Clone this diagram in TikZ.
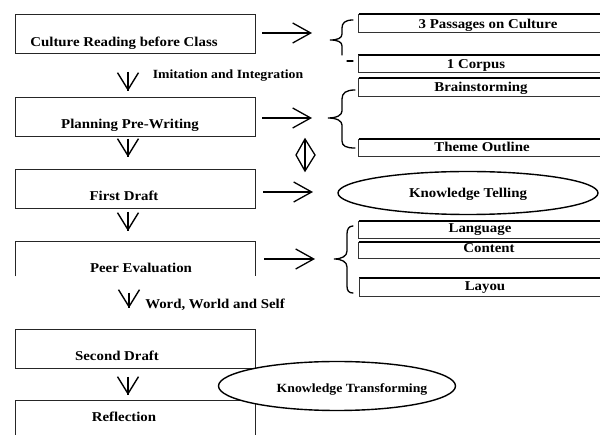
\documentclass[tikz,border=0pt]{standalone}
\usepackage{fontspec}
\setmainfont{Liberation Serif}[FakeStretch=1.1]
\usetikzlibrary{arrows.meta,shapes.geometric}
\tikzset{
  lbl/.style={font=\fontsize{13.5}{15}\selectfont\bfseries, inner sep=0pt, anchor=base},
  slbl/.style={font=\fontsize{12.5}{14}\selectfont\bfseries, inner sep=0pt, anchor=base},
  lbox/.style={draw=black!85, line width=1pt, minimum width=240pt, minimum height=39pt, inner sep=0pt, anchor=north west},
  obox/.style={draw=none, minimum width=240pt, inner sep=0pt, anchor=north west},
  oline/.style={draw=black!85, line width=1pt},
  rbox/.style={draw=none, minimum width=241pt, inner sep=0pt},
  rtop/.style={draw=black, line width=1.6pt},
  rline/.style={draw=black!80, line width=0.9pt},
  oval/.style={ellipse, draw=black, line width=1.4pt, fill=white, inner sep=0pt},
  downarr/.style={line width=1.4pt, -{Straight Barb[length=17pt,width=21pt]}},
  shaft/.style={line width=1.4pt},
  rightarr/.style={line width=1.3pt, -{Straight Barb[length=18pt,width=20pt]}},
  brace/.style={line width=1.3pt, line cap=round}
}
\begin{document}
\begin{tikzpicture}[x=1pt,y=-1pt]
\useasboundingbox (0,0) rectangle (600,435);

% left boxes
\node[lbox] (b1) at (15,14) {};
\node[lbox] (b2) at (15,97) {};
\node[lbox] (b3) at (15,169) {};
\node[obox, minimum height=34pt] (b4) at (15,242) {};
\draw[oline] (b4.south west) -- (b4.north west) -- (b4.north east) -- (b4.south east);
\node[lbox] (b5) at (15,329) {};
\node[obox, minimum height=34pt] (b6) at (15,401) {};
\draw[oline] (b6.south west) -- (b6.north west) -- (b6.north east) -- (b6.south east);

\node[lbl] (t1) at (124,47) {Culture Reading before Class};
\node[lbl] (t2) at (130,129) {Planning Pre-Writing};
\node[lbl] (t3) at (124,201) {First Draft};
\node[lbl] (t4) at (141,273) {Peer Evaluation};
\node[lbl] (t5) at (117,361) {Second Draft};
\node[lbl] (t6) at (124,422) {Reflection};

\node[slbl] (l1) at (228,79) {Imitation and Integration};
\node[lbl] (l2) at (215,309) {Word, World and Self};

% down arrows
\coordinate (d1s) at (128,72);  \coordinate (d1e) at (128,91);
\coordinate (d2s) at (128,139); \coordinate (d2e) at (128,157);
\coordinate (d3s) at (128,212); \coordinate (d3e) at (128,231);
\coordinate (d4s) at (129,293); \coordinate (d4e) at (129,308);
\coordinate (d5s) at (128,377); \coordinate (d5e) at (128,395);
\foreach \a in {1,...,5}{
  \draw[downarr] (d\a s) -- (d\a e);
  \draw[shaft] (d\a s) -- (d\a e);
}

% right arrows
\coordinate (a1s) at (262,33);  \coordinate (a1e) at (312,33);
\coordinate (a2s) at (262,118); \coordinate (a2e) at (312,118);
\coordinate (a3s) at (263,192); \coordinate (a3e) at (313,192);
\coordinate (a4s) at (264,259); \coordinate (a4e) at (315,259);
\draw[rightarr] (a1s) -- (a1e);
\draw[rightarr] (a2s) -- (a2e);
\draw[rightarr] (a3s) -- (a3e);
\draw[rightarr] (a4s) -- (a4e);

% double diamond arrow
\coordinate (dmT) at (305,139);
\coordinate (dmR) at (315,155);
\coordinate (dmB) at (305,171);
\coordinate (dmL) at (296,155);
\draw[line width=1.3pt, line join=miter] (dmT) -- (dmR) -- (dmB) -- (dmL) -- cycle;
\draw[line width=1.3pt] (dmT) -- (dmB);

% braces
\draw[brace] (353,20) .. controls (345,20) and (342,23) .. (342,28) -- (342,34)
  .. controls (342,38) and (338,40) .. (330,40)
  .. controls (338,40) and (342,42) .. (342,46) -- (342,55);
\draw[brace] (347,61) -- (353,61);
\draw[brace] (355,90) .. controls (346,90) and (342,93) .. (342,99) -- (342,111)
  .. controls (342,115) and (337,118) .. (328,118)
  .. controls (337,118) and (342,121) .. (342,125) -- (342,141)
  .. controls (342,146) and (346,148) .. (355,148);
\draw[brace] (353,226) .. controls (349,226) and (347,229) .. (347,234) -- (347,251)
  .. controls (347,256) and (342,259) .. (334,259)
  .. controls (342,259) and (347,262) .. (347,267) -- (347,286)
  .. controls (347,291) and (349,293) .. (353,293);

% right boxes
\node[rbox, minimum height=18pt] (r1) at (479.5,23) {};
\node[rbox, minimum height=17pt] (r2) at (479,63.5) {};
\node[rbox, minimum height=18pt] (r3) at (479.5,87) {};
\node[rbox, minimum height=17pt] (r4) at (479.5,147.5) {};
\node[rbox, minimum height=17pt] (r5) at (479.5,229.5) {};
\node[rbox, minimum height=16pt] (r6) at (479.5,250) {};
\node[rbox, minimum height=18pt] (r7) at (480,287) {};
\foreach \r in {r1,r2,r3,r4,r5,r6,r7}{
  \draw[rtop] (\r.north west) -- (\r.north east);
  \draw[rline] (\r.north west) -- (\r.south west) -- (\r.south east);
}
\node[lbl] (rt1) at (488,28.5) {3 Passages on Culture};
\node[lbl] (rt2) at (476,69) {1 Corpus};
\node[lbl] (rt3) at (481,92) {Brainstorming};
\node[lbl] (rt4) at (482,152) {Theme Outline};
\node[lbl] (rt5) at (480,233) {Language};
\node[lbl] (rt6) at (489,253) {Content};
\node[lbl] (rt7) at (485,291) {Layou};

% ellipses
\node[oval, minimum width=260pt, minimum height=43pt] (e1) at (468,193) {};
\node[lbl] (et1) at (468,198) {Knowledge Telling};
\node[oval, minimum width=237pt, minimum height=49pt] (e2) at (337,386) {};
\node[slbl] (et2) at (352,393) {Knowledge Transforming};
\end{tikzpicture}
\end{document}
